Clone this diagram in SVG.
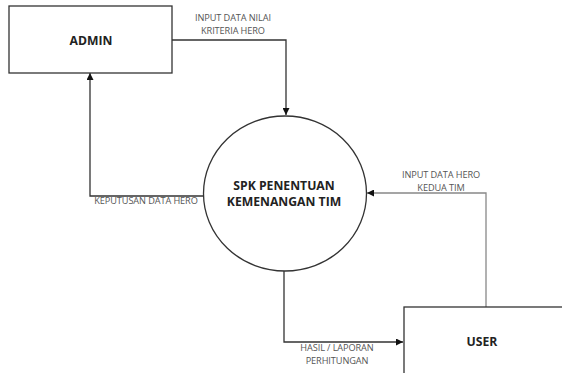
<svg xmlns="http://www.w3.org/2000/svg" width="562" height="373" viewBox="0 0 562 373">
  <style>
    .box { fill: #fff; stroke: #333; stroke-width: 1.3; }
    .proc { fill: #fff; stroke: #333; stroke-width: 1.3; }
    .title { font-family: "Open Sans", "Liberation Sans", sans-serif; font-weight: bold; font-size: 12.2px; fill: #222; text-anchor: middle; }
    .lbl { font-family: "Open Sans", "Liberation Sans", sans-serif; font-size: 9.2px; fill: #555; text-anchor: middle; letter-spacing: -0.1px; }
    .flow { fill: none; stroke: #333; stroke-width: 1.3; marker-end: url(#arrow); }
    .flow.light { stroke: #888; }
  </style>
  <defs>
    <marker id="arrow" viewBox="0 0 10 10" refX="10" refY="5" markerWidth="7" markerHeight="7" markerUnits="userSpaceOnUse" orient="auto">
      <path d="M0,0 L10,5 L0,10 z" fill="#111"/>
    </marker>
  </defs>
  <rect width="562" height="373" fill="#fff"/>

  <g id="connectors">
    <polyline class="flow" points="172,40 286,40 286,115"/>
    <polyline class="flow" points="204,196 90,196 90,73"/>
    <polyline class="flow light" points="486,307 486,193 367,193"/>
    <polyline class="flow" points="284,271 284,342 403,342"/>
    <text class="lbl" x="233" y="21">INPUT DATA NILAI</text>
    <text class="lbl" x="233" y="34">KRITERIA HERO</text>
    <text class="lbl" x="146" y="204">KEPUTUSAN DATA HERO</text>
    <text class="lbl" x="441" y="178">INPUT DATA HERO</text>
    <text class="lbl" x="441" y="190.5">KEDUA TIM</text>
    <text class="lbl" x="337" y="351">HASIL / LAPORAN</text>
    <text class="lbl" x="337" y="364">PERHITUNGAN</text>
  </g>

  <g id="admin">
    <rect class="box" x="9" y="6" width="163" height="67"/>
    <text class="title" x="91" y="45">ADMIN</text>
  </g>

  <g id="spk">
    <ellipse class="proc" cx="285" cy="193.5" rx="81.5" ry="77.5"/>
    <text class="title" x="284" y="190">SPK PENENTUAN</text>
    <text class="title" x="284" y="206">KEMENANGAN TIM</text>
  </g>

  <g id="user">
    <rect class="box" x="404" y="307" width="170" height="80"/>
    <text class="title" x="482" y="346">USER</text>
  </g>
</svg>
